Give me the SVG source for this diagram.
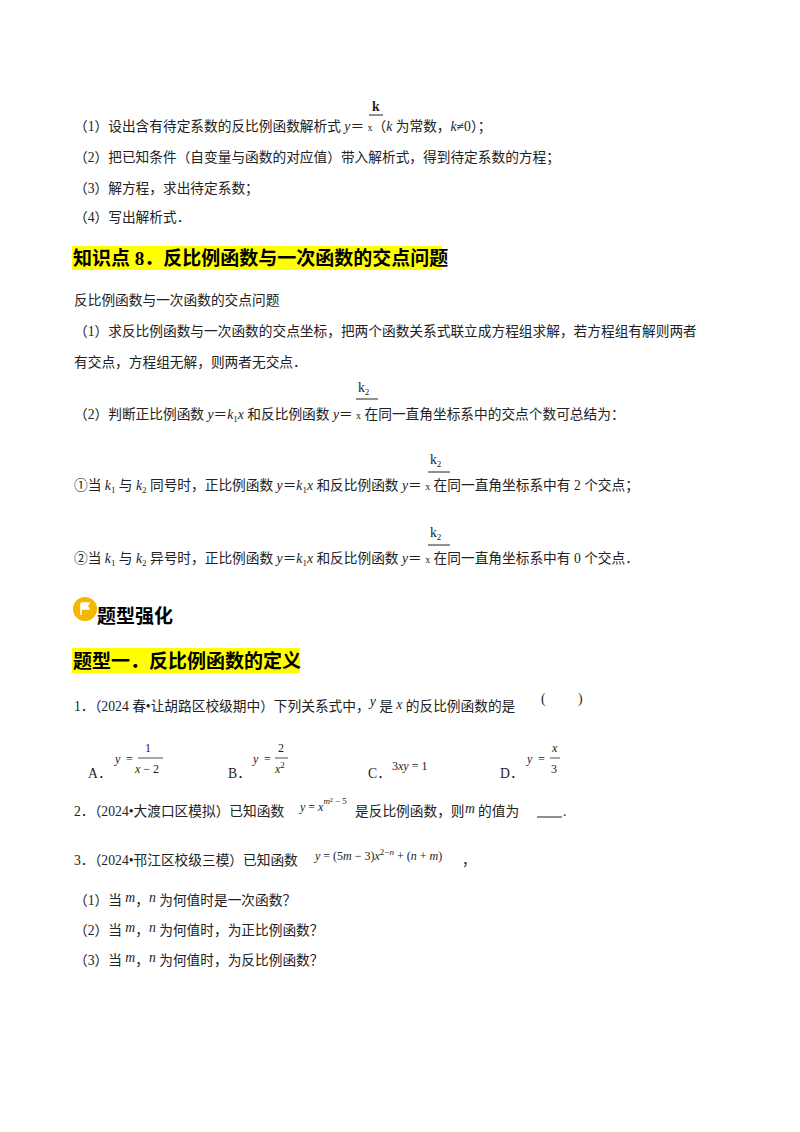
<svg xmlns="http://www.w3.org/2000/svg" width="800" height="1132" viewBox="0 0 800 1132">
<style>
text{font-family:"Liberation Serif","Noto Sans CJK SC",serif;font-size:13.7px;fill:#222}
.h{font-family:"Liberation Serif","Noto Sans CJK SC",sans-serif;font-size:19px;font-weight:bold;fill:#000}
.i{font-style:italic}
.s{font-size:9px}
.m{font-size:12px}
</style>
<rect width="800" height="1132" fill="#fff"/>
<g id="p1">
<text x="372" y="111" font-weight="bold">k</text><line x1="369" y1="115" x2="383" y2="115" stroke="#222"/>
<text x="74" y="131">（1）设出含有待定系数的反比例函数解析式 <tspan class="i">y</tspan>＝ <tspan font-size="10">x</tspan>（<tspan class="i">k</tspan> 为常数，<tspan class="i">k</tspan>≠0）；</text>
<text x="74" y="162">（2）把已知条件（自变量与函数的对应值）带入解析式，得到待定系数的方程；</text>
<text x="74" y="193">（3）解方程，求出待定系数；</text>
<text x="74" y="222">（4）写出解析式．</text>
</g>
<g id="k8">
<rect x="72" y="246" width="370" height="24" fill="#ffff00"/>
<text x="73" y="265" class="h">知识点 8．反比例函数与一次函数的交点问题</text>
<text x="74" y="305">反比例函数与一次函数的交点问题</text>
<text x="74" y="336">（1）求反比例函数与一次函数的交点坐标，把两个函数关系式联立成方程组求解，若方程组有解则两者</text>
<text x="74" y="367">有交点，方程组无解，则两者无交点．</text>
<text x="358" y="392">k<tspan class="s" dy="3">2</tspan></text><line x1="356" y1="399" x2="378" y2="399" stroke="#222"/>
<text x="74" y="419">（2）判断正比例函数 <tspan class="i">y</tspan>＝<tspan class="i">k</tspan><tspan class="s" dy="3">1</tspan><tspan class="i" dy="-3">x</tspan> 和反比例函数 <tspan class="i">y</tspan>＝ <tspan font-size="10">x</tspan> 在同一直角坐标系中的交点个数可总结为：</text>
<text x="430" y="464">k<tspan class="s" dy="3">2</tspan></text><line x1="428" y1="472" x2="450" y2="472" stroke="#222"/>
<text x="74" y="490">①当 <tspan class="i">k</tspan><tspan class="s" dy="3">1</tspan><tspan dy="-3"> 与 </tspan><tspan class="i">k</tspan><tspan class="s" dy="3">2</tspan><tspan dy="-3"> 同号时，正比例函数 </tspan><tspan class="i">y</tspan>＝<tspan class="i">k</tspan><tspan class="s" dy="3">1</tspan><tspan class="i" dy="-3">x</tspan> 和反比例函数 <tspan class="i">y</tspan>＝ <tspan font-size="10">x</tspan> 在同一直角坐标系中有 2 个交点；</text>
<text x="430" y="537">k<tspan class="s" dy="3">2</tspan></text><line x1="428" y1="545" x2="450" y2="545" stroke="#222"/>
<text x="74" y="563">②当 <tspan class="i">k</tspan><tspan class="s" dy="3">1</tspan><tspan dy="-3"> 与 </tspan><tspan class="i">k</tspan><tspan class="s" dy="3">2</tspan><tspan dy="-3"> 异号时，正比例函数 </tspan><tspan class="i">y</tspan>＝<tspan class="i">k</tspan><tspan class="s" dy="3">1</tspan><tspan class="i" dy="-3">x</tspan> 和反比例函数 <tspan class="i">y</tspan>＝ <tspan font-size="10">x</tspan> 在同一直角坐标系中有 0 个交点．</text>
</g>
<g id="t">
<circle cx="85" cy="609" r="12" fill="#f5b800"/>
<path d="M81 603 v12 M81 603 h8 l-2 3 l2 3 h-8" stroke="#fff" stroke-width="1.6" fill="#fff"/>
<text x="97" y="623" class="h" font-size="22">题型强化</text>
<rect x="72" y="648" width="228" height="25" fill="#ffff00"/>
<text x="73" y="668" class="h">题型一．反比例函数的定义</text>
</g>
<g id="q">
<text x="74" y="711">1．（2024 春•让胡路区校级期中）下列关系式中，<tspan class="i" dy="-5">y</tspan><tspan dy="5"> 是 </tspan><tspan class="i" dy="-2">x</tspan><tspan dy="2"> 的反比例函数的是</tspan></text>
<text x="541" y="703">(</text><text x="578" y="703">)</text>
<text x="88" y="778">A．</text>
<text x="115" y="763" class="i m">y</text><text x="126" y="763" class="m">=</text><text x="145" y="752" class="m">1</text><line x1="138" y1="758" x2="163" y2="758" stroke="#222" stroke-width="0.8"/><text x="135" y="773" class="i m">x<tspan font-style="normal"> − 2</tspan></text>
<text x="228" y="778">B．</text>
<text x="253" y="763" class="i m">y</text><text x="264" y="763" class="m">=</text><text x="278" y="752" class="m">2</text><line x1="275" y1="758" x2="288" y2="758" stroke="#222" stroke-width="0.8"/><text x="275" y="773" class="i m">x<tspan class="s" font-style="normal" dy="-5">2</tspan></text>
<text x="368" y="778">C．</text>
<text x="371" y="770" class="m" dx="21">3<tspan class="i">xy</tspan> = 1</text>
<text x="500" y="778">D．</text>
<text x="527" y="763" class="i m">y</text><text x="538" y="763" class="m">=</text><text x="552" y="752" class="i m">x</text><line x1="550" y1="758" x2="560" y2="758" stroke="#222" stroke-width="0.8"/><text x="551" y="773" class="m">3</text>
<text x="74" y="816">2．（2024•大渡口区模拟）已知函数</text>
<text x="300" y="811" class="m"><tspan class="i">y</tspan> = <tspan class="i">x</tspan><tspan class="s" dy="-7"><tspan class="i">m</tspan>² − 5</tspan></text>
<text x="355" y="816">是反比例函数，则 </text><text x="465" y="813" class="i">m</text><text x="478" y="816">的值为</text>
<line x1="537" y1="817" x2="562" y2="817" stroke="#222"/><text x="563" y="816">.</text>
<text x="74" y="865">3．（2024•邗江区校级三模）已知函数</text>
<text x="315" y="860" class="m"><tspan class="i">y</tspan> = (5<tspan class="i">m</tspan> − 3)<tspan class="i">x</tspan><tspan class="s" dy="-5">2−<tspan class="i">n</tspan></tspan><tspan dy="5"> + (<tspan class="i">n</tspan> + <tspan class="i">m</tspan>)</tspan></text>
<text x="462" y="865">，</text>
<text x="74" y="905">（1）当 <tspan class="i" dy="-3">m</tspan><tspan dy="3">，</tspan><tspan class="i" dy="-3">n</tspan><tspan dy="3"> 为何值时是一次函数？</tspan></text>
<text x="74" y="935">（2）当 <tspan class="i" dy="-3">m</tspan><tspan dy="3">，</tspan><tspan class="i" dy="-3">n</tspan><tspan dy="3"> 为何值时，为正比例函数？</tspan></text>
<text x="74" y="965">（3）当 <tspan class="i" dy="-3">m</tspan><tspan dy="3">，</tspan><tspan class="i" dy="-3">n</tspan><tspan dy="3"> 为何值时，为反比例函数？</tspan></text>
</g>
</svg>
